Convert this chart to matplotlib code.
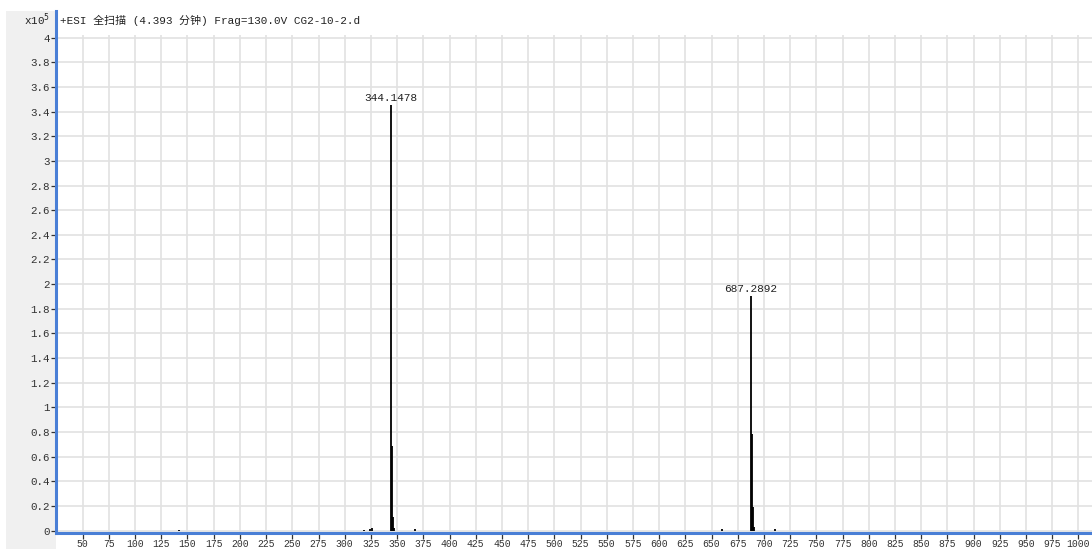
import numpy as np
import matplotlib.pyplot as plt
from matplotlib.patches import Rectangle
from matplotlib.lines import Line2D

# peak list (m/z, intensity in x10^5 counts)
peakMz = [142.1, 318.2, 324.5, 326.1, 344.1478, 345.15, 346.15, 347.15,
          367.2, 660.3, 687.2892, 688.29, 689.29, 690.29, 710.3]
peakInt = [0.008, 0.008, 0.01, 0.022, 3.45, 0.69, 0.11, 0.02,
           0.012, 0.01, 1.90, 0.78, 0.19, 0.03, 0.012]
labelledMz = [344.1478, 687.2892]
labelledInt = [3.45, 1.90]

xTicks = np.arange(50, 1001, 25)
yTicks = np.arange(0, 4.01, 0.2)

titleText = '+ESI 全扫描 (4.393 分钟) Frag=130.0V CG2-10-2.d'

if __name__ == '__main__':
    W, H = 1092, 549
    blue = '#4a7fd6'
    mono = ['Liberation Mono', 'Noto Sans CJK SC', 'DejaVu Sans']

    fig = plt.figure(figsize=(W / 100, H / 100), dpi=100)
    fig.patch.set_facecolor('white')

    # grey strip on the left like the instrument software
    fig.patches.append(Rectangle((6 / W, 0), 50 / W, 1 - 11 / H, transform=fig.transFigure,
                                 facecolor='#f0f0f0', edgecolor='none', zorder=-5))

    left, right = 57 / W, 1.0
    bottom, top = 1 - 533 / H, 1 - 35 / H
    ax = fig.add_axes([left, bottom, right - left, top - bottom])

    ax.vlines(peakMz, 0, peakInt, color='black', linewidth=1.3, zorder=3)
    for mz, h in zip(labelledMz, labelledInt):
        ax.annotate('%.4f' % mz, (mz, h), xytext=(0, 2), textcoords='offset points',
                    ha='center', va='bottom', fontsize=8, family=mono, color='#222222')

    ax.set_xlim(25.5, 1013)
    ax.set_ylim(-0.02, 4.022)
    ax.set_xticks(xTicks)
    ax.set_yticks(yTicks)
    ax.set_yticklabels(['%g' % round(v, 1) for v in yTicks])
    ax.grid(color='#e2e2e2', linewidth=1.2)
    ax.set_axisbelow(True)

    for s in ['top', 'right']:
        ax.spines[s].set_visible(False)
    ax.spines['left'].set_visible(False)
    ax.spines['bottom'].set_color(blue)
    ax.spines['bottom'].set_linewidth(2.2)

    ax.tick_params(axis='x', direction='out', length=4, width=0.9, color='#333333',
                   labelsize=7, pad=0, labelcolor='#333333')
    ax.tick_params(axis='y', direction='out', length=4, width=0.9, color='#333333',
                   labelsize=7.8, pad=1, labelcolor='#333333')
    for lab in ax.get_xticklabels() + ax.get_yticklabels():
        lab.set_family(mono)

    # left blue axis line runs up to the title row
    fig.lines.append(Line2D([56.5 / W, 56.5 / W], [1 - 533 / H, 1 - 11 / H],
                            transform=fig.transFigure, color=blue, linewidth=2.2))

    fig.text(60 / W, 1 - 20 / H, titleText, ha='left', va='center', fontsize=7.9,
             family=mono, color='#222222')
    fig.text(50 / W, 1 - 20 / H, r'x10$^{5}$', ha='right', va='center', fontsize=7.8,
             family=mono, color='#222222')

    plt.savefig('out.png', dpi=100)
    plt.close()
